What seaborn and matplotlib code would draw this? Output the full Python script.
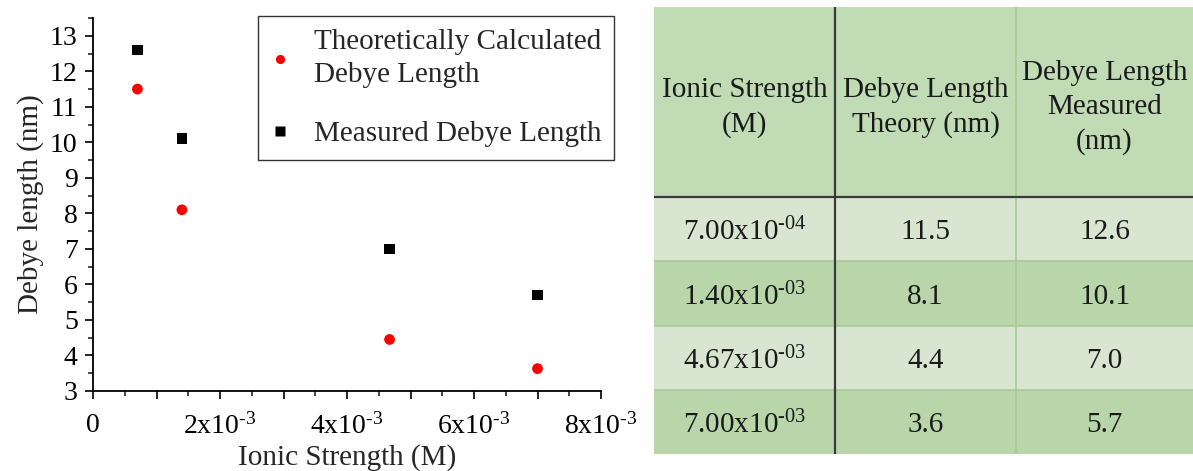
import numpy as np
import pandas as pd
import seaborn as sns
import matplotlib.pyplot as plt
from matplotlib.ticker import MultipleLocator, FuncFormatter

sns.set_style('ticks')
plt.rcParams['font.family'] = ['Liberation Serif', 'DejaVu Serif']
plt.rcParams['mathtext.fontset'] = 'custom'
plt.rcParams['mathtext.rm'] = 'Liberation Serif'
plt.rcParams['mathtext.it'] = 'Liberation Serif'

# data
ionic = [7.0e-4, 1.4e-3, 4.67e-3, 7.0e-3]
theory_nm = [11.5, 8.1, 4.45, 3.63]
measured_nm = [12.6, 10.1, 7.0, 5.7]

# table content
tab_header = ['Ionic Strength\n(M)', 'Debye Length\nTheory (nm)', 'Debye Length\nMeasured\n(nm)']
tab_ionic = [r'7.00x10$^{\text{-04}}$', r'1.40x10$^{\text{-03}}$', r'4.67x10$^{\text{-03}}$', r'7.00x10$^{\text{-03}}$']
tab_theory = ['11.5', '8.1', '4.4', '3.6']
tab_measured = ['12.6', '10.1', '7.0', '5.7']

lab_th = 'Theoretically Calculated\nDebye Length'
lab_me = 'Measured Debye Length'
df = pd.DataFrame({'ionic': ionic * 2,
                   'length': theory_nm + measured_nm,
                   'kind': [lab_th] * 4 + [lab_me] * 4})

fig = plt.figure(figsize=(11.93, 4.71), dpi=100)

############ scatter ############
ax = fig.add_axes([93 / 1193, 1 - 391 / 471, 508 / 1193, 373 / 471])
sns.scatterplot(data=df, x='ionic', y='length', hue='kind', style='kind',
                palette={lab_th: 'red', lab_me: 'black'},
                markers={lab_th: 'o', lab_me: 's'},
                s=60, edgecolor='none', ax=ax)
ax.set_xlim(0, 8e-3)
ax.set_ylim(3, 13.5)
ax.spines['top'].set_visible(False)
ax.spines['right'].set_visible(False)
for sp in ['left', 'bottom']:
    ax.spines[sp].set_linewidth(1.3)
    ax.spines[sp].set_color('black')

ax.yaxis.set_major_locator(MultipleLocator(1))
ax.yaxis.set_minor_locator(MultipleLocator(0.5))
ax.xaxis.set_major_locator(MultipleLocator(1e-3))
ax.xaxis.set_minor_locator(MultipleLocator(0.5e-3))

def xfmt(v, pos):
    k = int(round(v * 1e3))
    if k == 0:
        return '0'
    if k % 2:
        return ''
    return r'%dx10$^{\text{-3}}$' % k

ax.xaxis.set_major_formatter(FuncFormatter(xfmt))
ax.tick_params(which='major', direction='out', length=6, width=1.2, labelsize=20, colors='black', pad=5)
ax.tick_params(axis='x', which='major', pad=10)
ax.tick_params(which='minor', direction='out', length=3.5, width=1.2)
ax.set_xlabel('Ionic Strength (M)', fontsize=21, labelpad=3)
ax.set_ylabel('Debye length (nm)', fontsize=21, labelpad=4)

leg = ax.legend(loc='upper left', bbox_to_anchor=(0.325, 1.005), fontsize=21, frameon=True,
                fancybox=False, edgecolor='black', handlelength=0.6, handletextpad=0.85,
                labelspacing=1.1, borderpad=0.45, borderaxespad=0, markerscale=0.85)
leg.get_frame().set_linewidth(1.0)
for t in leg.get_texts():
    t.set_linespacing(1.35)

############ table ############
tx = fig.add_axes([654 / 1193, 1 - 454 / 471, 1 - 654 / 1193, 447 / 471])
head_h = 190 / 64.25
col_w = [181, 181, 177]
col_edges = np.concatenate([[0], np.cumsum(col_w)])
row_edges = [0, head_h, head_h + 1, head_h + 2, head_h + 3, head_h + 4]
row_cols = ['#c1dbb5', '#d8e5d1', '#b9d6ab', '#d8e5d1', '#b9d6ab']

tx.set_xlim(0, col_edges[-1])
tx.set_ylim(row_edges[-1], 0)
tx.axis('off')
for i, c in enumerate(row_cols):
    tx.axhspan(row_edges[i], row_edges[i + 1], color=c, lw=0)
for y in row_edges[2:-1]:
    tx.axhline(y, color='#a6cb96', lw=1.2)
for x in col_edges[2:-1]:
    tx.axvline(x, color='#a6cb96', lw=1.2)
tx.axhline(row_edges[1], color='#3a3a3a', lw=1.6)
tx.axvline(col_edges[1], color='#3a3a3a', lw=1.6)

cx = (col_edges[:-1] + col_edges[1:]) / 2
for j, h in enumerate(tab_header):
    tx.text(cx[j], head_h / 2 + 0.08, h, ha='center', va='center', fontsize=21, color='#1a1a1a', linespacing=1.4)
for i in range(4):
    yc = head_h + i + 0.55
    for j, v in enumerate([tab_ionic[i], tab_theory[i], tab_measured[i]]):
        tx.text(cx[j], yc, v, ha='center', va='center', fontsize=21, color='#1a1a1a')

plt.savefig('out.png', dpi=100)
